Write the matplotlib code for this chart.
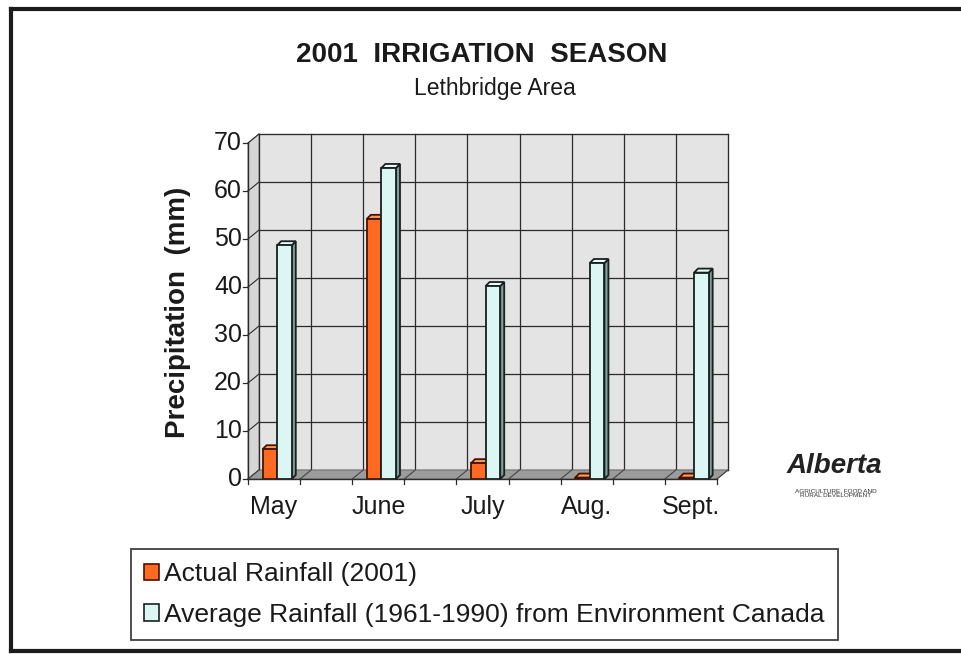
import matplotlib
matplotlib.use("Agg")
import matplotlib.pyplot as plt
from matplotlib.patches import Polygon, Patch
from matplotlib.lines import Line2D
import numpy as np

plt.rcParams['font.family'] = ['Liberation Sans', 'DejaVu Sans']

# ---- data ----
months = ["May", "June", "July", "Aug.", "Sept."]
actual_2001 = [6.2, 54.2, 3.3, 0.3, 0.3]
average_1961_1990 = [48.7, 64.8, 40.2, 45.0, 43.0]
yticks = [0, 10, 20, 30, 40, 50, 60, 70]
title = "2001  IRRIGATION  SEASON"
subtitle = "Lethbridge Area"
ylabel = "Precipitation  (mm)"
legend_labels = ["Actual Rainfall (2001)",
                 "Average Rainfall (1961-1990) from Environment Canada"]

# ---- style ----
W, H = 961, 654
fig = plt.figure(figsize=(W / 100, H / 100), dpi=100)
fig.patch.set_facecolor("white")

ax = fig.add_axes([248 / W, (H - 479) / H, (717 - 248) / W, (479 - 143) / H])
ax.set_axis_off()
xlo, xhi = -0.28, 4.22
ax.set_xlim(xlo, xhi)
ax.set_ylim(0, 70)

# pixel -> data unit conversion
ux = (xhi - xlo) / ax.bbox.width
uy = 70 / ax.bbox.height
DX, DY = 11 * ux, 9 * uy        # wall depth
bdx, bdy = 4 * ux, 4 * uy       # bar depth

def P(pts, **kw):
    p = Polygon(pts, closed=True, clip_on=False, **kw)
    ax.add_patch(p)
    return p

# back wall
P([(xlo + DX, DY), (xhi + DX, DY), (xhi + DX, 70 + DY), (xlo + DX, 70 + DY)],
  facecolor="#e4e4e4", edgecolor="#555555", lw=0.8, zorder=1)
# left wall
P([(xlo, 0), (xlo + DX, DY), (xlo + DX, 70 + DY), (xlo, 70)],
  facecolor="#d6d6d6", edgecolor="#777777", lw=0.6, zorder=1)
# floor
P([(xlo, 0), (xhi, 0), (xhi + DX, DY), (xlo + DX, DY)],
  facecolor="#9c9c9c", edgecolor="#666666", lw=0.6, zorder=2)

grid_c = "#2b2b2b"
# horizontal gridlines on back wall + diagonal ticks on side wall
for v in yticks:
    ax.plot([xlo + DX, xhi + DX], [v + DY, v + DY], color=grid_c, lw=0.9,
            zorder=1.5, clip_on=False)
    ax.plot([xlo, xlo + DX], [v, v + DY], color=grid_c, lw=0.8, zorder=1.5,
            clip_on=False)
    ax.plot([xlo - 5 * ux, xlo], [v, v], color=grid_c, lw=0.9, zorder=3,
            clip_on=False)
    ax.text(xlo - 6 * ux, v, str(v), ha="right", va="center", fontsize=18,
            color="#1a1a1a")

# vertical gridlines on back wall + floor ticks
vx = xlo + 0.5 * np.arange(10)
for x in vx:
    ax.plot([x + DX, x + DX], [DY, 70 + DY], color=grid_c, lw=0.9, zorder=1.5,
            clip_on=False)
    ax.plot([x, x + DX], [0, DY], color="#444444", lw=0.8, zorder=2.5,
            clip_on=False)
    ax.plot([x, x], [0, -5 * uy], color=grid_c, lw=0.9, zorder=3, clip_on=False)

# front axes lines
ax.plot([xlo, xlo], [0, 70], color=grid_c, lw=1.0, zorder=3, clip_on=False)
ax.plot([xlo, xhi], [0, 0], color=grid_c, lw=1.0, zorder=3, clip_on=False)

# bars
w = 0.14
xs = np.arange(len(months))
series = [
    (actual_2001, -w, "#ff6a22", "#ff9a5a", "#b8380c", "#4a1200"),
    (average_1961_1990, 0.0, "#dcf6f3", "#eefcfa", "#7f9e9b", "#17211f"),
]
for vals, off, cf, ct, cs, ce in series:
    bars = ax.bar(xs + off, vals, width=w, align="edge", color=cf,
                  edgecolor=ce, linewidth=1.3, zorder=6)
    for b in bars:
        x0 = b.get_x()
        x1 = x0 + b.get_width()
        h = b.get_height()
        P([(x1, 0), (x1, h), (x1 + bdx, h + bdy), (x1 + bdx, bdy)],
          facecolor=cs, edgecolor=ce, lw=1.3, zorder=5.5)
        P([(x0, h), (x1, h), (x1 + bdx, h + bdy), (x0 + bdx, h + bdy)],
          facecolor=ct, edgecolor=ce, lw=1.3, zorder=5.5)

# category labels
for x, m in zip(xs, months):
    ax.text(x - 0.03, -16 * uy, m, ha="center", va="top", fontsize=18,
            color="#1a1a1a")

# y label
fig.text(178 / W, 1 - 312 / H, ylabel, rotation=90, ha="center", va="center",
         fontsize=20, fontweight="bold", color="#1a1a1a")

# titles
fig.text(482 / W, 1 - 55 / H, title, ha="center", va="center", fontsize=20,
         fontweight="bold", color="#1a1a1a")
fig.text(495 / W, 1 - 89 / H, subtitle, ha="center", va="center", fontsize=16.5,
         color="#1a1a1a")

# legend
handles = [Patch(facecolor="#ff6a22", edgecolor="#4a1200", lw=1.2),
           Patch(facecolor="#dcf6f3", edgecolor="#17211f", lw=1.2)]
leg = fig.legend(handles, legend_labels, loc="upper left",
                 bbox_to_anchor=(131 / W, 1 - 549 / H), fontsize=19,
                 frameon=True, fancybox=False, handlelength=0.55,
                 handleheight=0.6, handletextpad=0.2, labelspacing=0.62,
                 borderpad=0.5, borderaxespad=0)
leg.get_frame().set_edgecolor("#111111")
leg.get_frame().set_linewidth(1.3)
for t in leg.get_texts():
    t.set_color("#1a1a1a")

# logo
fig.text(834 / W, 1 - 466 / H, "Alberta", ha="center", va="center",
         fontsize=20, fontweight="bold", fontstyle="italic",
         color="#222222")
fig.text(836 / W, 1 - 493 / H, "AGRICULTURE, FOOD AND\nRURAL DEVELOPMENT",
         ha="center", va="center", fontsize=4.6, color="#333333",
         linespacing=1.1)

# outer frame (left, top, bottom)
frame_c = "#1c1c1c"
fig.add_artist(Line2D([11 / W, 11 / W], [1 - 9 / H, 1 - 651 / H],
                      transform=fig.transFigure, color=frame_c, lw=3))
fig.add_artist(Line2D([11 / W, 1], [1 - 9 / H, 1 - 9 / H],
                      transform=fig.transFigure, color=frame_c, lw=3))
fig.add_artist(Line2D([11 / W, 1], [1 - 651 / H, 1 - 651 / H],
                      transform=fig.transFigure, color=frame_c, lw=3))

fig.savefig("out.png", dpi=100)
